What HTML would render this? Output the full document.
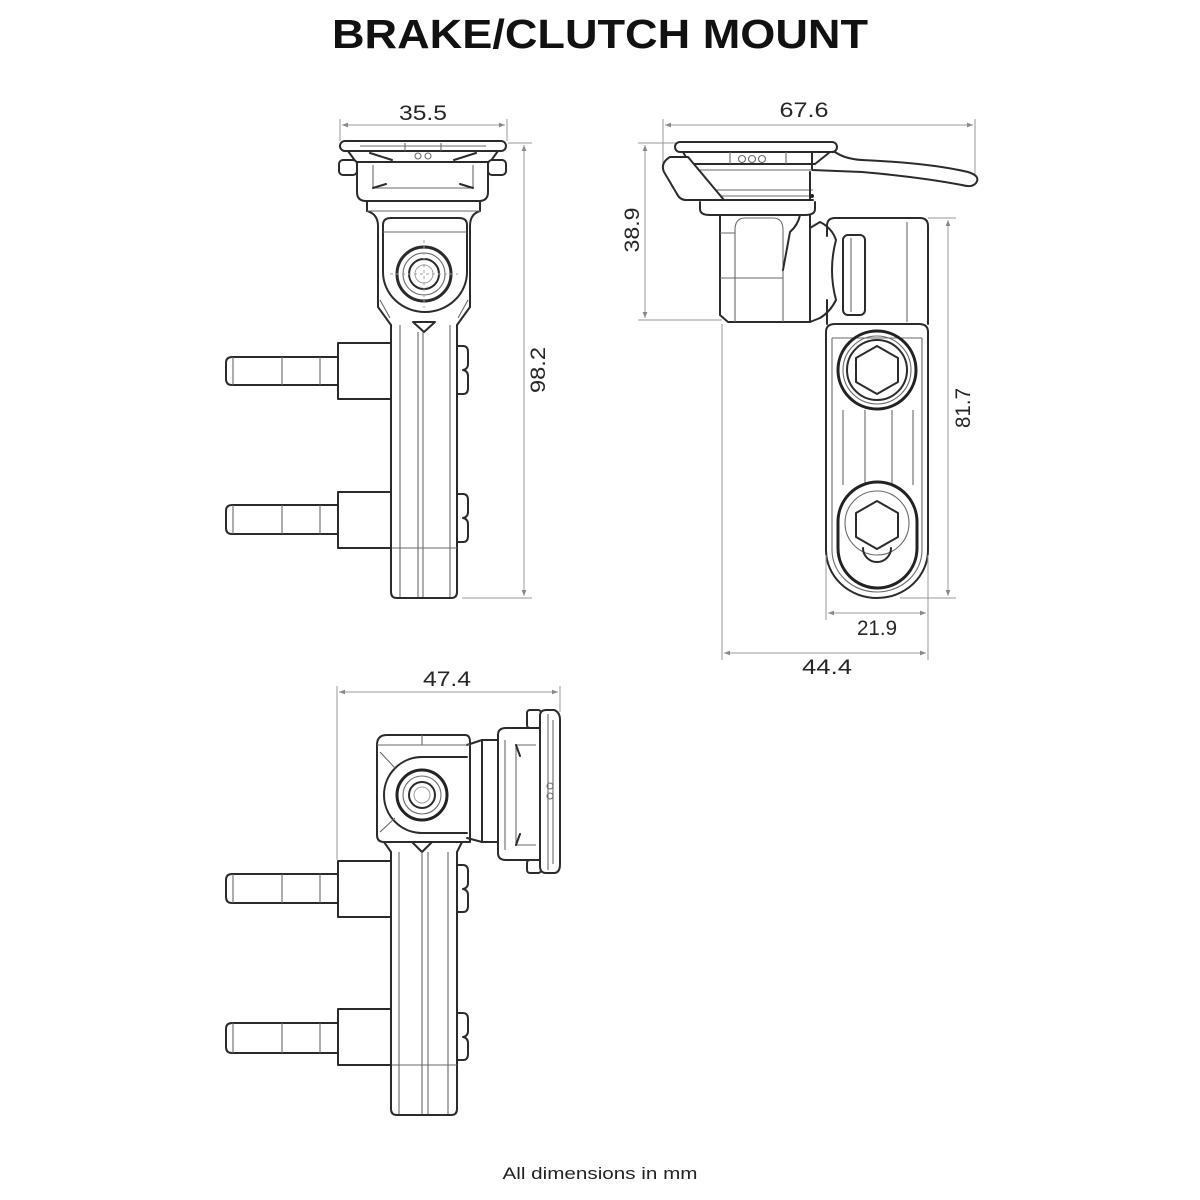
<!DOCTYPE html>
<html><head><meta charset="utf-8"><style>
html,body{margin:0;padding:0;background:#fff;}
svg{display:block;}
.m{stroke:#2b2b2b;stroke-width:2;fill:none;stroke-linejoin:round;stroke-linecap:round}
.w{stroke:#2b2b2b;stroke-width:2;fill:#fff;stroke-linejoin:round}
.t{stroke:#6a6a6a;stroke-width:1.1;fill:none}
.l{stroke:#a0a0a0;stroke-width:1;fill:none}
.d{stroke:#9a9a9a;stroke-width:1;fill:none}
.n{font-family:"Liberation Sans",sans-serif;font-size:21px;fill:#262626;}
</style></head><body>
<svg width="1200" height="1200" viewBox="0 0 1200 1200" xmlns="http://www.w3.org/2000/svg">
<defs>
<marker id="a" viewBox="0 0 10 10" refX="10" refY="5" markerWidth="8" markerHeight="6" orient="auto-start-reverse" markerUnits="userSpaceOnUse"><path d="M0 1 L10 5 L0 9 Z" fill="#8a8a8a"/></marker>
</defs>
<rect width="1200" height="1200" fill="#fff"/>
<text x="600" y="48" text-anchor="middle" font-family="Liberation Sans, sans-serif" font-size="41" font-weight="700" fill="#111" textLength="536" lengthAdjust="spacingAndGlyphs">BRAKE/CLUTCH MOUNT</text>
<text x="600" y="1179" text-anchor="middle" font-family="Liberation Sans, sans-serif" font-size="17" fill="#222" textLength="195" lengthAdjust="spacingAndGlyphs">All dimensions in mm</text>

<!-- ============ VIEW 1 ============ -->
<g>
<line class="d" x1="342" y1="125" x2="505" y2="125" marker-start="url(#a)" marker-end="url(#a)"/>
<line class="d" x1="340" y1="119" x2="340" y2="141"/>
<line class="d" x1="507" y1="119" x2="507" y2="141"/>
<text class="n" x="423" y="120" text-anchor="middle" textLength="48" lengthAdjust="spacingAndGlyphs">35.5</text>
<line class="d" x1="524" y1="145" x2="524" y2="596" marker-start="url(#a)" marker-end="url(#a)"/>
<line class="d" x1="508" y1="143" x2="532" y2="143"/>
<line class="d" x1="462" y1="598" x2="532" y2="598"/>
<text class="n" transform="translate(545,370) rotate(-90)" x="0" y="0" text-anchor="middle" textLength="46" lengthAdjust="spacingAndGlyphs">98.2</text>

<!-- plate -->
<rect class="w" x="340" y="141" width="166" height="10" rx="5"/>
<path class="m" d="M348 151 L356 162 L490 162 L498 151"/>
<path class="t" d="M360 146 L486 146 M405 143 L405 151 M441 143 L441 151"/>
<circle class="t" cx="418" cy="156" r="3"/><circle class="t" cx="428" cy="156" r="3"/>
<path class="m" d="M370 153 L392 160 M476 153 L454 160"/>
<rect class="w" x="339" y="160" width="18" height="15" rx="4"/>
<rect class="w" x="488" y="160" width="18" height="15" rx="4"/>
<path class="w" d="M357 162 L357 192 Q357 201 366 201 L479 201 Q488 201 488 192 L488 162 Z"/>
<path class="t" d="M373 165 L373 188 L473 188 L473 165"/>
<path class="m" d="M373 188 L386 184 M473 188 L460 184"/>
<!-- neck & head -->
<path class="m" d="M367 201 L367 211 Q378 214 378 226 L378 307 L391 325"/>
<path class="m" d="M480 201 L480 211 Q470 214 470 226 L470 307 L457 325"/>
<path class="t" d="M367 211 L480 211"/>
<path class="m" d="M383 232 L383 225 Q383 218 391 218 L459 218 Q467 218 467 225 L467 232"/>
<path class="m" d="M383 232 L383 272 A42 40 0 0 0 467 272 L467 232"/>
<line class="t" x1="383" y1="232" x2="467" y2="232"/>
<path class="t" d="M380 300 L390 318 M468 300 L458 318"/>
<circle cx="424" cy="274" r="27" fill="none" stroke="#2b2b2b" stroke-width="3"/>
<circle class="t" cx="424" cy="274" r="21"/>
<circle class="m" cx="424" cy="274" r="15"/>
<circle class="l" cx="424" cy="274" r="9"/>
<path class="l" d="M424 240 L424 308 M390 274 L458 274" stroke-dasharray="3 3"/>
<path class="m" d="M413 322 L435 322 L424 332 Z"/>
<!-- column -->
<path class="m" d="M391 325 L391 592 Q391 598 397 598 L451 598 Q457 598 457 592 L457 325"/>
<path class="t" d="M400 325 L400 597 M418 332 L418 597 M423 332 L423 597 M450 325 L450 597"/>
<line class="t" x1="392" y1="548" x2="457" y2="548"/>
<!-- bosses + pins -->
<rect class="m" x="338" y="343" width="53" height="56"/>
<path class="m" d="M338 357 L232 357 Q226 357 226 363 L226 379 Q226 385 232 385 L338 385"/>
<path class="t" d="M233 357 L233 385 M282 357 L282 385 M320 357 L320 385"/>
<path class="m" d="M457 346 L463 346 Q468 346 468 352 L468 364 Q468 369 463 370 Q468 371 468 376 L468 388 Q468 394 463 394 L457 394"/>
<rect class="m" x="338" y="492" width="53" height="56"/>
<path class="m" d="M338 505 L232 505 Q226 505 226 511 L226 528 Q226 534 232 534 L338 534"/>
<path class="t" d="M233 505 L233 534 M282 505 L282 534 M320 505 L320 534"/>
<path class="m" d="M457 494 L463 494 Q468 494 468 500 L468 512 Q468 517 463 518 Q468 519 468 524 L468 536 Q468 542 463 542 L457 542"/>
</g>

<!-- ============ VIEW 2 ============ -->
<g>
<line class="d" x1="665" y1="125" x2="973" y2="125" marker-start="url(#a)" marker-end="url(#a)"/>
<line class="d" x1="663" y1="119" x2="663" y2="163"/>
<line class="d" x1="975" y1="119" x2="975" y2="178"/>
<text class="n" x="804" y="117" text-anchor="middle" textLength="49" lengthAdjust="spacingAndGlyphs">67.6</text>
<line class="d" x1="645" y1="145" x2="645" y2="318" marker-start="url(#a)" marker-end="url(#a)"/>
<line class="d" x1="638" y1="143" x2="676" y2="143"/>
<line class="d" x1="638" y1="320" x2="722" y2="320"/>
<text class="n" transform="translate(639,230) rotate(-90)" text-anchor="middle" textLength="45" lengthAdjust="spacingAndGlyphs">38.9</text>

<!-- lever -->
<path class="w" d="M812 152 L835 152 Q845 159 862 160 Q930 163 968 172 Q981 176 976 183 Q972 188 962 185 Q920 177 862 172 L812 170 Z"/>
<!-- plate -->
<rect class="w" x="675" y="142" width="162" height="10" rx="5"/>
<path class="m" d="M683 152 L690 164 L815 164 L830 152"/>
<circle class="t" cx="742" cy="159" r="3.5"/><circle class="t" cx="752" cy="159" r="3.5"/><circle class="t" cx="762" cy="159" r="3.5"/>
<path class="t" d="M730 152 L730 164 M786 152 L786 164 M690 170 L812 170 M700 190 L813 190 M700 196 L813 196"/>
<line class="m" x1="810" y1="172" x2="810" y2="200"/>
<circle cx="812" cy="196" r="2" fill="#222"/>
<path class="w" d="M670 157 L688 157 L724 200 L686 200 Q680 200 677 194 L664 172 Q660 163 670 157 Z"/>
<line class="m" x1="686" y1="200" x2="813" y2="200"/>
<!-- neck -->
<path class="m" d="M700 202 L700 209 Q700 215 710 215 L805 215 Q815 215 815 209 L815 202"/>
<!-- lower block -->
<path class="m" d="M720 215 L720 315 L728 322 L810 322 L810 215"/>
<path class="t" d="M735 322 L735 230 Q735 218 745 218 L773 218 Q783 218 783 230 L783 322 M720 278 L783 278 M720 233 L735 233"/>
<path class="m" d="M800 215 Q798 225 790 232 L783 270"/>
<!-- knuckle -->
<path class="w" d="M810 228 L820 222 Q832 228 836 240 Q828 270 836 300 Q830 312 820 318 L810 322 Z"/>
<!-- clamp upper -->
<path class="m" d="M827 226 Q827 218 835 218 L920 218 Q928 218 928 226 L928 324"/>
<line class="m" x1="827" y1="226" x2="827" y2="236"/>
<line class="t" x1="907" y1="222" x2="907" y2="322"/>
<rect class="m" x="843" y="235" width="22" height="80" rx="5"/>
<line class="t" x1="851" y1="238" x2="851" y2="312"/>
<path class="m" d="M827 300 L827 324"/>
<!-- clamp lower -->
<path class="w" d="M826 332 Q826 324 835 324 L919 324 Q928 324 928 332 L928 550 A51 48 0 0 1 826 550 Z"/>
<path class="t" d="M832 338 L832 550 A45 42 0 0 0 922 550 L922 338 M832 338 L922 338"/>
<circle cx="877" cy="370" r="39" fill="none" stroke="#222" stroke-width="3"/>
<circle class="t" cx="877" cy="370" r="34"/>
<circle class="m" cx="877" cy="370" r="30"/>
<polygon class="m" points="877,346 898,358 898,382 877,394 856,382 856,358"/>
<path class="t" d="M843 410 L843 485 M865 410 L865 485 M892 410 L892 485 M913 410 L913 485"/>
<path d="M838 522 A39.5 40 0 0 1 917 522 L917 548 A39.5 40 0 0 1 838 548 Z" fill="none" stroke="#222" stroke-width="3"/>
<circle class="t" cx="877" cy="523" r="32"/>
<polygon class="m" points="877,501 898,513 898,537 877,549 856,537 856,513"/>
<path class="m" d="M863 548 A14 14 0 0 0 891 548"/>
<!-- dims -->
<line class="d" x1="948" y1="220" x2="948" y2="596" marker-start="url(#a)" marker-end="url(#a)"/>
<line class="d" x1="928" y1="218" x2="956" y2="218"/>
<line class="d" x1="900" y1="598" x2="956" y2="598"/>
<text class="n" transform="translate(970,408) rotate(-90)" text-anchor="middle" textLength="40" lengthAdjust="spacingAndGlyphs">81.7</text>
<line class="d" x1="828" y1="613" x2="926" y2="613" marker-start="url(#a)" marker-end="url(#a)"/>
<line class="d" x1="826" y1="555" x2="826" y2="620"/>
<line class="d" x1="928" y1="555" x2="928" y2="660"/>
<text class="n" x="877" y="635" text-anchor="middle" textLength="40" lengthAdjust="spacingAndGlyphs">21.9</text>
<line class="d" x1="724" y1="653" x2="926" y2="653" marker-start="url(#a)" marker-end="url(#a)"/>
<line class="d" x1="722" y1="324" x2="722" y2="660"/>
<text class="n" x="827" y="674" text-anchor="middle" textLength="50" lengthAdjust="spacingAndGlyphs">44.4</text>
</g>

<!-- ============ VIEW 3 ============ -->
<g>
<line class="d" x1="339" y1="692" x2="558" y2="692" marker-start="url(#a)" marker-end="url(#a)"/>
<line class="d" x1="337" y1="686" x2="337" y2="860"/>
<line class="d" x1="560" y1="686" x2="560" y2="712"/>
<text class="n" x="447" y="686" text-anchor="middle" textLength="48" lengthAdjust="spacingAndGlyphs">47.4</text>

<!-- plate face -->
<rect class="w" x="527" y="710" width="14" height="18" rx="3"/>
<rect class="w" x="527" y="860" width="14" height="13" rx="3"/>
<path class="w" d="M540 716 Q540 710 546 710 L554 710 Q560 712 560 720 L560 864 Q560 873 554 873 L546 873 Q540 873 540 866 Z"/>
<path class="t" d="M548 714 L548 870 M553 720 L553 864"/>
<circle class="t" cx="550" cy="786" r="3"/><circle class="t" cx="550" cy="796" r="3"/>
<!-- plate box -->
<path class="w" d="M498 735 Q498 728 506 728 L540 728 L540 860 L506 860 Q498 860 498 853 Z"/>
<path class="t" d="M505 740 L505 850 M516 745 L516 845 M516 745 L536 745 M516 845 L536 845"/>
<path class="m" d="M516 745 L520 756 M516 845 L520 834"/>
<!-- neck -->
<path class="m" d="M467 745 L482 740 L497 740 M467 838 L482 842 L497 842"/>
<line class="m" x1="482" y1="740" x2="482" y2="842"/>
<!-- head -->
<path class="m" d="M377 745 Q377 735 387 735 L465 735 Q470 735 470 742 L470 842 L384 842 Q377 842 377 835 Z"/>
<line class="t" x1="377" y1="745" x2="470" y2="745"/>
<line class="t" x1="422" y1="735" x2="422" y2="745"/>
<path class="m" d="M467 757 L422 757 A38 38 0 0 0 422 833 L467 833"/>
<path class="t" d="M380 752 L395 768 M380 832 L395 818"/>
<circle cx="422" cy="795" r="25" fill="none" stroke="#222" stroke-width="3"/>
<circle class="t" cx="422" cy="795" r="19"/>
<circle class="m" cx="422" cy="795" r="13"/>
<circle class="l" cx="422" cy="795" r="8"/>
<path class="m" d="M412 842 L432 842 L422 852 Z"/>
<path class="m" d="M384 842 L391 852 M462 842 L457 852"/>
<!-- column -->
<path class="m" d="M391 852 L391 1109 Q391 1115 397 1115 L451 1115 Q457 1115 457 1109 L457 852"/>
<path class="t" d="M399 852 L399 1114 M422 852 L422 1114 M428 852 L428 1114 M448 852 L448 1114"/>
<line class="t" x1="392" y1="1065" x2="457" y2="1065"/>
<!-- bosses + pins -->
<rect class="m" x="338" y="861" width="53" height="56"/>
<path class="m" d="M338 874 L232 874 Q226 874 226 880 L226 897 Q226 903 232 903 L338 903"/>
<path class="t" d="M233 874 L233 903 M282 874 L282 903 M320 874 L320 903"/>
<path class="m" d="M457 865 L463 865 Q468 865 468 871 L468 883 Q468 888 463 889 Q468 890 468 895 L468 906 Q468 912 463 912 L457 912"/>
<rect class="m" x="338" y="1009" width="53" height="56"/>
<path class="m" d="M338 1023 L232 1023 Q226 1023 226 1029 L226 1047 Q226 1053 232 1053 L338 1053"/>
<path class="t" d="M233 1023 L233 1053 M282 1023 L282 1053 M320 1023 L320 1053"/>
<path class="m" d="M457 1013 L463 1013 Q468 1013 468 1019 L468 1031 Q468 1036 463 1037 Q468 1038 468 1043 L468 1054 Q468 1060 463 1060 L457 1060"/>
</g>
</svg>
</body></html>
